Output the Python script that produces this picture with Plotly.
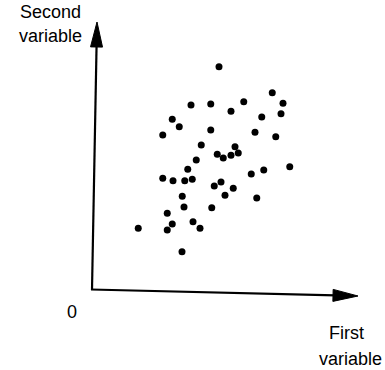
import plotly.graph_objects as go

# Scatter data (arbitrary units; origin at axis intersection)
first_variable = [5.08, 3.96, 4.75, 6.07, 7.21, 7.64, 7.56, 5.56, 6.79, 3.21,
                  3.49, 2.83, 4.75, 6.52, 7.35, 4.37, 5.72, 5.01, 5.25, 5.56,
                  5.85, 4.17, 3.83, 6.37, 6.87, 7.91, 2.83, 3.24, 3.71, 4.01,
                  4.89, 5.16, 5.65, 5.32, 3.61, 6.59, 3.68, 4.79, 3.01, 4.04,
                  3.21, 4.32, 3.01, 3.60, 1.85]
second_variable = [8.93, 7.40, 7.44, 7.53, 7.89, 7.47, 7.05, 7.15, 6.92, 6.83,
                   6.53, 6.20, 6.40, 6.31, 6.13, 5.80, 5.73, 5.43, 5.28, 5.39,
                   5.48, 5.20, 4.83, 4.64, 4.80, 4.93, 4.47, 4.37, 4.37, 4.43,
                   4.16, 4.32, 4.07, 3.79, 3.75, 3.68, 3.32, 3.29, 3.07, 2.73,
                   2.64, 2.47, 2.40, 1.53, 2.47]

y_label_lines = ["Second", "variable"]
x_label_lines = ["First", "variable"]
origin_label = "0"

FONT = "Liberation Sans, Arial, sans-serif"

# axis geometry (data units)
y_axis_tail, y_axis_tip = (0.0, 0.0), (0.2, 10.72)
x_axis_tail, x_axis_tip = (-0.04, 0.02), (10.64, -0.24)
HEAD_LEN, HEAD_HALF = 1.0, 0.24

fig = go.Figure()
fig.add_trace(go.Scatter(
    x=first_variable, y=second_variable, mode="markers",
    marker=dict(color="black", size=7, line=dict(width=0)),
    hoverinfo="skip", showlegend=False))


def add_arrow(tail, tip):
    dx, dy = tip[0] - tail[0], tip[1] - tail[1]
    L = (dx * dx + dy * dy) ** 0.5
    ux, uy = dx / L, dy / L
    px, py = -uy, ux
    bx, by = tip[0] - ux * HEAD_LEN, tip[1] - uy * HEAD_LEN
    fig.add_shape(type="line", x0=tail[0], y0=tail[1], x1=bx + ux * 0.1, y1=by + uy * 0.1,
                  xref="x", yref="y", line=dict(color="black", width=2.2))
    path = (f"M {tip[0]},{tip[1]} L {bx + px * HEAD_HALF},{by + py * HEAD_HALF} "
            f"L {bx - px * HEAD_HALF},{by - py * HEAD_HALF} Z")
    fig.add_shape(type="path", path=path, xref="x", yref="y",
                  fillcolor="black", line=dict(color="black", width=1))


add_arrow(y_axis_tail, y_axis_tip)
add_arrow(x_axis_tail, x_axis_tip)


def label(text, x, y):
    fig.add_annotation(x=x, y=y, xref="x", yref="y", text=text, showarrow=False,
                       xanchor="center", yanchor="middle",
                       font=dict(family=FONT, size=18, color="black"))


label(y_label_lines[0], -1.68, 11.12)
label(y_label_lines[1], -1.68, 10.16)
label(origin_label, -0.8, -0.88)
label(x_label_lines[0], 10.16, -1.72)
label(x_label_lines[1], 10.32, -2.76)

fig.update_layout(
    width=385, height=370,
    margin=dict(l=0, r=0, t=0, b=0),
    paper_bgcolor="white", plot_bgcolor="white",
    xaxis=dict(range=[-3.68, 11.72], visible=False, fixedrange=True),
    yaxis=dict(range=[-3.2, 11.6], visible=False, fixedrange=True),
    showlegend=False,
)

fig.write_html("out.html", config={"displayModeBar": False, "staticPlot": True},
               post_script="document.body.style.margin='0';")
